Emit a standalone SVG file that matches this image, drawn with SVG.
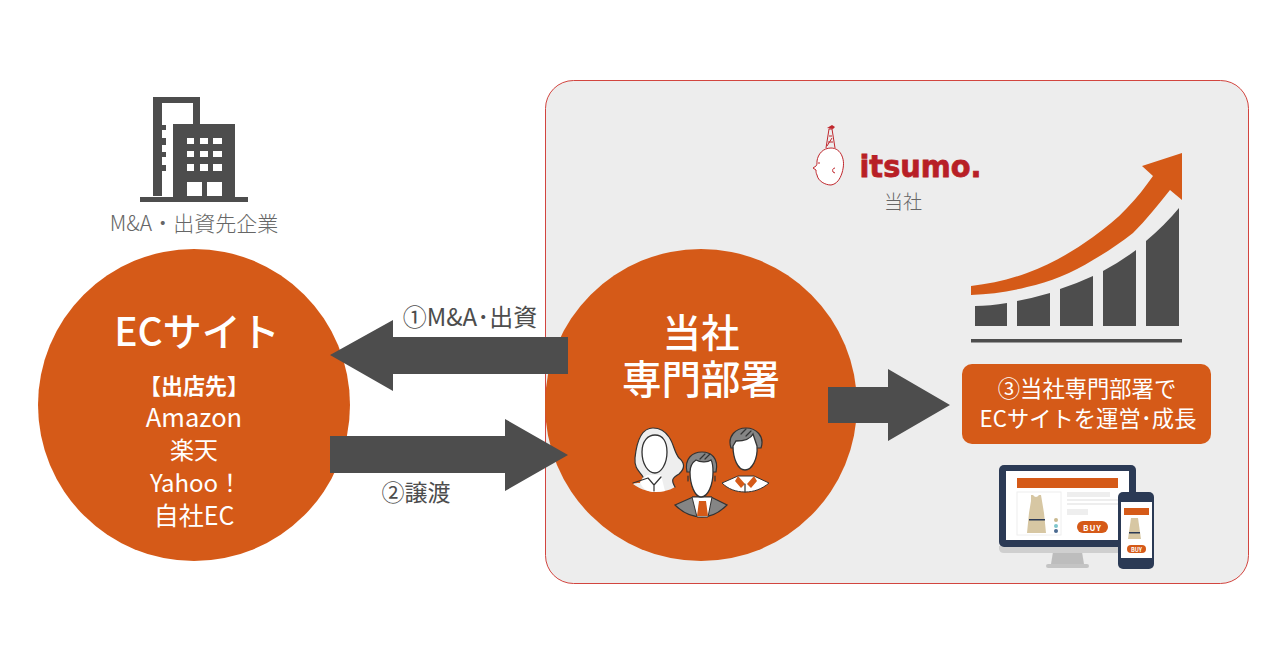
<svg xmlns="http://www.w3.org/2000/svg" width="1280" height="670" viewBox="0 0 1280 670">
<style>
text{font-family:"Noto Sans CJK JP","Noto Sans",sans-serif;text-anchor:middle}
.w{fill:#fff}.g{fill:#666}.d{fill:#4d4d4d}.o{fill:#d55a18}
.face{fill:#fff;stroke:#333;stroke-width:1.3}
.ln{fill:none;stroke:#333;stroke-width:1.2;stroke-linecap:round;stroke-linejoin:round}
.gr{fill:#858585;stroke:#333;stroke-width:1.2}
.lg{fill:#eee}.nv{fill:#2b3a55}.sk{fill:#d7c7a3}.pl{fill:#eee}
.rd{fill:none;stroke:#c0272d;stroke-width:1}
</style>
<rect width="1280" height="670" fill="#fff"/>
<g id="panel"><rect x="545.500" y="80.500" width="703" height="503" rx="28" fill="#ededed" stroke="#d2453f" stroke-width="1"/></g>
<g id="building">
<path class="d" d="M153 97h47v27h-7v-21h-31v93h-9z"/>
<path class="d" d="M162 125h4v5h-4zM162 138h4v7h-4zM162 152h4v5h-4zM162 165h4v6h-4zM140 197h108v5h-108z"/>
<path class="d" fill-rule="evenodd" d="M173 124h62v73h-62zM187 138v6h7v-6zM200 138v6h8v-6zM213 138v6h9v-6zM187 151v6h7v-6zM200 151v6h8v-6zM213 151v6h9v-6zM187 164v7h7v-7zM200 164v7h8v-7zM213 164v7h9v-7zM187 182v14h15v-14zM207 182v14h15v-14z"/>
<text class="g" x="194" y="231" font-size="21" font-weight="300">M&amp;A・出資先企業</text>
</g>
<g id="ec-site">
<circle class="o" cx="194" cy="405" r="156"/>
<text class="w" x="197" y="346" font-size="39" font-weight="500">ECサイト</text>
<text class="w" x="194" y="394" font-size="22" font-weight="700">【出店先】</text>
<text class="w" x="194" y="427" font-size="25.500">Amazon</text>
<text class="w" x="194" y="459" font-size="24">楽天</text>
<text class="w" x="196" y="492" font-size="24">Yahoo！</text>
<text class="w" x="194" y="525" font-size="25">自社EC</text>
</g>
<g id="logo">
<path class="rd" style="fill:#fff" d="M831 148c-8 0-13 6-14 13 0 3 0 4-1 5l-3 2 3 2c0 2 0 3 1 5 1 6 8 10 14 10 6-1 9-6 11-12 2-7 2-12 0-17-2-5-6-8-11-8z"/>
<path class="rd" d="M826 148l3-19h3l3 19M828 142h5M829 136h3M827 146l5-8M835 168c-2 0-3 2-2 4l2 1M818 163h2"/>
<path d="M827 128l5-3 3 2-2 2z" fill="#c0272d"/>
<text x="920.500" y="177" font-size="31" font-weight="700" fill="#b81f26" stroke="#b81f26" stroke-width="0.800" textLength="122" lengthAdjust="spacingAndGlyphs" style="font-family:'DejaVu Sans',sans-serif">itsumo.</text>
<text class="g" x="903" y="209" font-size="19" font-weight="300">当社</text>
</g>
<g id="chart">
<path class="o" d="M971 286C990 284 1008 280 1027 273C1050 265 1072 252 1093 237C1105 228 1117 219 1127 208C1137 198 1145 187 1153 176L1142 166L1182 153V200L1170 190C1158 205 1146 220 1133 233C1120 243 1107 252 1093 260C1072 273 1050 282 1027 287C1008 292 990 294 971 295z"/>
<path class="d" d="M975 306Q990 306 1007 303V326H975zM1017 301Q1033 298 1050 293V326H1017zM1060 289Q1078 283 1093 276V326H1060zM1103 271Q1120 262 1136 250V326H1103zM1146 241Q1165 225 1179 208V326H1146z"/>
<rect class="d" x="971" y="339" width="211" height="3.500"/>
</g>
<g id="dept">
<circle class="o" cx="701" cy="405" r="156"/>
<text class="w" x="701" y="347" font-size="38.500" font-weight="500">当社</text>
<text class="w" x="701" y="394" font-size="39.500" font-weight="500">専門部署</text>
<g id="people">
<g id="person-woman">
<path class="lg" d="M653 428C643 428 637 438 635 458C634 470 641 472 643 477L640 483C633 483 633 484 633 484C640 489 646 491 653 492C661 492 669 491 675 487C671 480 672 478 679 474C686 468 684 462 679 458C674 452 674 444 669 437C665 431 660 428 653 428z"/>
<path d="M640 482C643 489 646 491 653 492C660 492 665 491 665 491L661 475H647Z" fill="#fff"/>
<path class="ln" d="M653 428C643 428 637 438 635 458C634 470 641 472 643 477M653 428C660 428 665 431 669 437C674 444 674 452 679 458C684 462 686 468 679 474C672 478 671 480 675 487M633 483L648 478L654 485L661 477M654 485V491"/>
<path class="face" d="M642 452c0-11 6-17 13-17 8 0 12 7 12 17 0 12-6 21-12 21-7 0-13-9-13-21z"/>
</g>
<g id="person-man-center">
<path d="M675 505L693 497H711L727 505C720 512 711 517 702 517C692 517 682 512 675 505z" class="gr"/>
<path d="M692 497L697 517H708L712 497z" fill="#fff" stroke="#333"/>
<path class="o" d="M699 501H706L708 516H697z"/>
<path class="gr" d="M687 472C684 458 693 452 702 452C711 452 719 458 716 472z"/>
<path class="face" d="M690 472C690 466 693 462 696 460C701 463 708 462 711 460C713 463 713 468 713 472C713 485 708 497 701 497C695 497 690 485 690 472z"/>
<path class="ln" d="M688 476v5M715 476v5M700 459l5-5M705 459l5-5"/>
</g>
<g id="person-man-right">
<path d="M722 483L738 476H754L769 483C762 489 754 492 745 492C736 492 728 489 722 483z" fill="#fff" stroke="#333"/>
<path class="o" d="M738 476L745 484L741 488L735 481zM754 476L747 484L751 488L757 481z"/>
<path class="ln" d="M745 484V492"/>
<path class="gr" d="M731 448C727 436 736 428 746 428C756 428 765 436 761 448z"/>
<path class="face" d="M733 446L736 441C742 441 750 440 753 434L757 446C758 459 752 470 745 470C738 470 733 459 733 446z"/>
<path class="ln" d="M741 434l5-5M746 436l5-5"/>
</g>
</g>
</g>
<g id="connectors">
<polygon class="d" points="568,337 393,337 393,320 330,355 393,391 393,374 568,374"/>
<polygon class="d" points="330,436 505,436 505,419 568,455 505,491 505,473 330,473"/>
<polygon class="d" points="828,387 888,387 888,369 950,405 888,441 888,423 828,423"/>
<text x="470" y="326" font-size="24" fill="#4d4d4d">①M&amp;A･出資</text>
<text x="416" y="501" font-size="23" fill="#4d4d4d">②譲渡</text>
</g>
<g id="operate">
<rect class="o" x="962" y="364" width="249" height="80" rx="10"/>
<text class="w" x="1087" y="397" font-size="22.300">③当社専門部署で</text>
<text class="w" x="1088" y="427" font-size="22.300">ECサイトを運営･成長</text>
</g>
<g id="devices">
<path d="M1053 552h29l2 12h-33z" fill="#bdbdbd"/><rect x="1046" y="564" width="43" height="4" rx="2" fill="#c4c4c4"/>
<path d="M999 546h137v2q0 5-5 5h-127q-5 0-5-5z" fill="#cfcfcf"/>
<rect class="nv" x="999" y="465" width="137" height="82" rx="5"/>
<rect x="1006" y="471" width="123" height="69" fill="#fff"/>
<rect class="o" x="1017" y="478" width="101" height="10"/>
<rect x="1017" y="492" width="44" height="43" fill="#fff" stroke="#eee"/>
<path class="sk" d="M1031 495h2q3 4 6 0h2l1 6 2 12 2 20h-19l2-20 2-12z"/><rect class="nv" x="1029" y="519" width="16" height="1.500"/>
<circle cx="1056" cy="520" r="2" fill="#c9b98f"/><circle cx="1056" cy="526" r="2" fill="#7fc6cc"/><circle cx="1056" cy="531" r="2" fill="#4a6a90"/>
<rect class="pl" x="1067" y="492" width="43" height="5"/><rect class="pl" x="1067" y="499" width="55" height="2"/><rect class="pl" x="1067" y="503" width="55" height="2"/><rect class="pl" x="1067" y="509" width="21" height="6"/>
<rect class="o" x="1077" y="521" width="31" height="12" rx="6"/>
<text class="w" x="1092.500" y="530.500" font-size="8" font-weight="700" letter-spacing="1">BUY</text>
<rect class="nv" x="1118" y="492" width="36" height="77" rx="5"/>
<rect x="1121" y="502" width="31" height="56" fill="#fff"/>
<rect class="o" x="1124" y="508" width="25" height="7"/>
<path class="sk" d="M1131 518h7l3 21h-13z"/><rect class="nv" x="1129" y="532" width="11" height="1.500"/>
<rect class="o" x="1127" y="545" width="19" height="8" rx="4"/>
<text class="w" x="1136.500" y="551.500" font-size="5.500" font-weight="700">BUY</text>
</g>
</svg>
